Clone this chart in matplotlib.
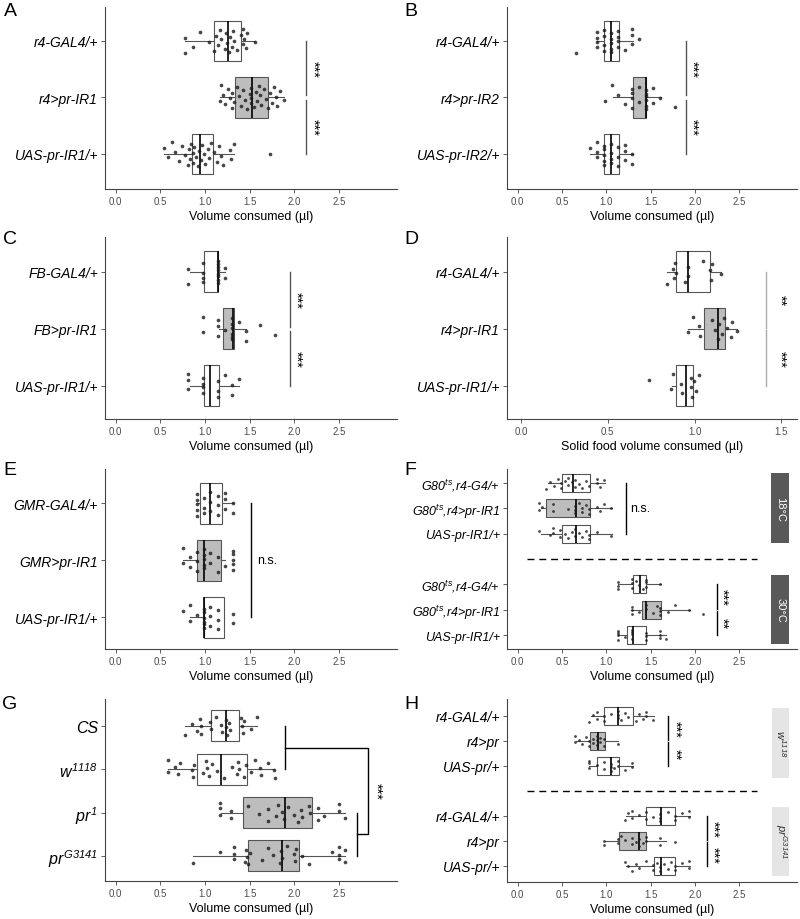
import matplotlib
matplotlib.use('Agg')
import matplotlib.pyplot as plt
from matplotlib.patches import Rectangle
import numpy as np

plt.rcParams['font.family'] = ['Liberation Sans', 'DejaVu Sans']
plt.rcParams['mathtext.fontset'] = 'custom'
plt.rcParams['mathtext.it'] = 'Liberation Sans:italic'
plt.rcParams['mathtext.rm'] = 'Liberation Sans:italic'
plt.rcParams['mathtext.default'] = 'it'

# ---------------- data ----------------
# box stats: [whisker low, q1, median, q3, whisker high]
a_labels = ['r4-GAL4/+', 'r4>pr-IR1', 'UAS-pr-IR1/+']
a_box = [[0.78, 1.10, 1.26, 1.40, 1.56],
         [1.17, 1.34, 1.53, 1.71, 1.88],
         [0.54, 0.85, 0.94, 1.09, 1.32]]
a_pts = [[0.78, 0.78, 0.86, 0.94, 1.05, 1.10, 1.12, 1.15, 1.17, 1.18, 1.22, 1.24, 1.25,
          1.27, 1.28, 1.30, 1.31, 1.33, 1.36, 1.40, 1.42, 1.43, 1.44, 1.46, 1.47, 1.56],
         [1.17, 1.18, 1.20, 1.22, 1.26, 1.28, 1.30, 1.30, 1.33, 1.36, 1.38, 1.40, 1.43,
          1.45, 1.47, 1.50, 1.51, 1.52, 1.52, 1.55, 1.57, 1.58, 1.60, 1.62, 1.63, 1.66,
          1.68, 1.70, 1.73, 1.75, 1.77, 1.79, 1.81, 1.84, 1.88],
         [0.54, 0.58, 0.63, 0.66, 0.71, 0.74, 0.78, 0.81, 0.82, 0.83, 0.84, 0.86, 0.87,
          0.88, 0.90, 0.92, 0.93, 0.95, 0.97, 0.99, 1.00, 1.03, 1.05, 1.07, 1.10, 1.13,
          1.16, 1.18, 1.20, 1.28, 1.29, 1.32, 1.73]]

b_labels = ['r4-GAL4/+', 'r4>pr-IR2', 'UAS-pr-IR2/+']
b_box = [[0.90, 0.97, 1.05, 1.14, 1.30],
         [1.07, 1.30, 1.45, 1.45, 1.62],
         [0.82, 0.97, 1.05, 1.14, 1.30]]
b_pts = [[0.66, 0.89, 0.89, 0.89, 0.89, 0.97, 0.97, 0.97, 0.97, 1.05, 1.05, 1.05, 1.05,
          1.05, 1.13, 1.13, 1.13, 1.13, 1.21, 1.29, 1.29, 1.29, 1.37],
         [0.98, 1.06, 1.13, 1.21, 1.29, 1.29, 1.29, 1.29, 1.37, 1.37, 1.45, 1.45, 1.45,
          1.45, 1.45, 1.45, 1.53, 1.53, 1.61, 1.77],
         [0.82, 0.89, 0.89, 0.89, 0.97, 0.97, 0.97, 0.97, 0.97, 1.05, 1.05, 1.05, 1.05,
          1.13, 1.13, 1.13, 1.21, 1.21, 1.21, 1.29, 1.29]]

c_labels = ['FB-GAL4/+', 'FB>pr-IR1', 'UAS-pr-IR1/+']
c_box = [[0.83, 0.99, 1.15, 1.15, 1.22],
         [1.16, 1.20, 1.31, 1.32, 1.46],
         [0.83, 0.99, 1.06, 1.16, 1.38]]
c_pts = [[0.81, 0.81, 0.98, 0.98, 0.98, 0.98, 1.14, 1.14, 1.14, 1.14, 1.14, 1.14, 1.14,
          1.14, 1.22, 1.22],
         [0.98, 0.98, 1.14, 1.14, 1.14, 1.22, 1.30, 1.30, 1.30, 1.30, 1.30, 1.30, 1.38,
          1.46, 1.46, 1.62, 1.78],
         [0.81, 0.81, 0.81, 0.98, 0.98, 0.98, 0.98, 1.14, 1.14, 1.14, 1.22, 1.30, 1.30,
          1.38]]

d_labels = ['r4-GAL4/+', 'r4>pr-IR1', 'UAS-pr-IR1/+']
d_box = [[0.843, 0.895, 0.963, 1.09, 1.15],
         [0.963, 1.053, 1.135, 1.176, 1.243],
         [0.868, 0.895, 0.952, 0.99, 0.99]]
d_pts = [[0.84, 0.876, 0.88, 0.89, 0.895, 0.945, 0.963, 0.965, 1.047, 1.09, 1.095,
          1.10, 1.15],
         [0.963, 0.99, 1.024, 1.034, 1.10, 1.115, 1.135, 1.14, 1.16, 1.167, 1.186, 1.21,
          1.215, 1.243],
         [0.735, 0.862, 0.876, 0.921, 0.929, 0.977, 0.982, 0.985, 0.996, 1.01, 1.024]]

e_labels = ['GMR-GAL4/+', 'GMR>pr-IR1', 'UAS-pr-IR1/+']
e_box = [[0.91, 0.94, 1.06, 1.19, 1.31],
         [0.75, 0.91, 0.99, 1.18, 1.22],
         [0.83, 0.99, 0.99, 1.21, 1.21]]
e_pts = [[0.91, 0.91, 0.91, 0.91, 0.91, 0.99, 0.99, 0.99, 1.06, 1.06, 1.06, 1.15, 1.15,
          1.15, 1.22, 1.22, 1.22, 1.31, 1.31],
         [0.75, 0.75, 0.83, 0.83, 0.91, 0.91, 0.91, 0.99, 0.99, 0.99, 0.99, 0.99, 1.06,
          1.06, 1.15, 1.15, 1.22, 1.31, 1.31, 1.31, 1.31, 1.31],
         [0.75, 0.83, 0.83, 0.91, 0.99, 0.99, 0.99, 0.99, 0.99, 0.99, 1.06, 1.06, 1.06,
          1.15, 1.15, 1.15, 1.31, 1.31]]

f_labels = [r'$G80^{ts}$,r4-G4/+', r'$G80^{ts}$,r4>pr-IR1', 'UAS-pr-IR1/+'] * 2
f_strips = ['18°C', '30°C']
f_box = [[0.34, 0.50, 0.62, 0.82, 0.98],
         [0.26, 0.32, 0.66, 0.82, 1.06],
         [0.26, 0.50, 0.66, 0.82, 1.06],
         [1.13, 1.30, 1.38, 1.45, 1.62],
         [1.28, 1.40, 1.45, 1.62, 1.94],
         [1.13, 1.23, 1.30, 1.45, 1.67]]
f_pts = [[0.32, 0.36, 0.41, 0.45, 0.49, 0.49, 0.53, 0.57, 0.57, 0.61, 0.65, 0.65, 0.69,
          0.73, 0.77, 0.81, 0.89, 0.89, 0.93, 0.97],
         [0.24, 0.24, 0.28, 0.40, 0.40, 0.57, 0.65, 0.65, 0.65, 0.69, 0.73, 0.73, 0.77,
          0.81, 0.81, 0.89, 0.93, 0.97, 1.05],
         [0.24, 0.36, 0.40, 0.40, 0.48, 0.48, 0.53, 0.57, 0.61, 0.65, 0.65, 0.69, 0.73,
          0.77, 0.81, 0.81, 0.89, 1.05],
         [1.13, 1.13, 1.13, 1.29, 1.29, 1.29, 1.33, 1.37, 1.41, 1.45, 1.45, 1.45, 1.61],
         [1.29, 1.29, 1.29, 1.37, 1.45, 1.45, 1.53, 1.57, 1.61, 1.61, 1.61, 1.69, 1.77,
          1.93, 2.09],
         [1.13, 1.13, 1.13, 1.13, 1.21, 1.29, 1.29, 1.29, 1.29, 1.45, 1.45, 1.45, 1.61,
          1.61, 1.61, 1.67]]

g_labels = ['CS', r'$w^{1118}$', r'$pr^{1}$', r'$pr^{G3141}$']
g_box = [[0.78, 1.07, 1.24, 1.38, 1.58],
         [0.59, 0.91, 1.18, 1.47, 1.77],
         [1.18, 1.43, 1.90, 2.20, 2.57],
         [0.87, 1.48, 1.86, 2.05, 2.57]]
g_pts = [[0.78, 0.85, 0.91, 0.94, 0.95, 0.96, 1.06, 1.07, 1.12, 1.18, 1.19, 1.24, 1.24,
          1.25, 1.27, 1.28, 1.40, 1.41, 1.42, 1.44, 1.51, 1.58],
         [0.59, 0.59, 0.66, 0.70, 0.72, 0.85, 0.86, 0.88, 0.98, 1.01, 1.02, 1.05, 1.08,
          1.13, 1.21, 1.30, 1.36, 1.37, 1.38, 1.44, 1.46, 1.52, 1.56, 1.62, 1.63, 1.70,
          1.77, 1.78],
         [1.17, 1.17, 1.17, 1.29, 1.29, 1.48, 1.61, 1.70, 1.70, 1.80, 1.82, 1.86, 1.88,
          1.93, 2.00, 2.04, 2.08, 2.09, 2.17, 2.18, 2.26, 2.26, 2.33, 2.50, 2.50, 2.57],
         [0.87, 1.17, 1.33, 1.33, 1.33, 1.45, 1.46, 1.47, 1.48, 1.50, 1.64, 1.70, 1.76,
          1.84, 1.85, 1.86, 1.92, 2.00, 2.01, 2.02, 2.09, 2.17, 2.42, 2.50, 2.50, 2.50,
          2.57, 2.57]]

h_labels = ['r4-GAL4/+', 'r4>pr', 'UAS-pr/+'] * 2
h_strips = [r'$w^{1118}$', r'$pr^{G3141}$']
h_box = [[0.83, 0.97, 1.13, 1.30, 1.54],
         [0.66, 0.82, 0.91, 0.98, 1.13],
         [0.81, 0.90, 1.05, 1.14, 1.30],
         [1.22, 1.45, 1.62, 1.77, 1.94],
         [0.98, 1.14, 1.37, 1.45, 1.67],
         [1.22, 1.54, 1.62, 1.77, 1.94]]
h_pts = [[0.81, 0.85, 0.89, 0.89, 0.97, 0.97, 1.05, 1.13, 1.13, 1.13, 1.17, 1.21, 1.25,
          1.33, 1.37, 1.41, 1.45, 1.45, 1.53],
         [0.65, 0.65, 0.69, 0.73, 0.77, 0.81, 0.81, 0.85, 0.85, 0.89, 0.89, 0.89, 0.93,
          0.93, 0.97, 0.97, 1.13],
         [0.81, 0.81, 0.81, 0.89, 0.97, 0.97, 1.05, 1.05, 1.05, 1.09, 1.13, 1.13, 1.21,
          1.29, 1.29],
         [1.21, 1.25, 1.29, 1.29, 1.37, 1.45, 1.45, 1.53, 1.61, 1.61, 1.61, 1.69, 1.77,
          1.77, 1.85, 1.93, 1.93],
         [0.97, 0.97, 1.13, 1.13, 1.17, 1.21, 1.29, 1.29, 1.33, 1.37, 1.37, 1.41, 1.45,
          1.45, 1.61, 1.61, 1.77],
         [1.21, 1.25, 1.29, 1.33, 1.37, 1.45, 1.53, 1.53, 1.57, 1.61, 1.61, 1.65, 1.69,
          1.73, 1.77, 1.77, 1.85, 1.93, 1.93]]

vol_label = 'Volume consumed (µl)'
solid_label = 'Solid food volume consumed (µl)'

GREY = '#bdbdbd'
W, H = 800, 920
fig = plt.figure(figsize=(8, 9.2), dpi=100)


def rect(l, t, r, b):
    return [l / W, 1 - b / H, (r - l) / W, (b - t) / H]


def panel(r, labels, pos, boxes, pts, fills, ylim, xlim=(-0.12, 3.15),
          xticks=(0, 0.5, 1, 1.5, 2, 2.5), xlabel=vol_label, fs=10, ms=7, jw=0.22):
    ax = fig.add_axes(r)
    stats = [dict(whislo=b[0], q1=b[1], med=b[2], q3=b[3], whishi=b[4]) for b in boxes]
    art = ax.bxp(stats, positions=pos, widths=0.72, orientation='horizontal',
                 showcaps=False, showfliers=False, patch_artist=True,
                 boxprops=dict(edgecolor='#555555', linewidth=0.8),
                 whiskerprops=dict(color='#555555', linewidth=0.8),
                 medianprops=dict(color='black', linewidth=1.2))
    for patch, fc in zip(art['boxes'], fills):
        patch.set_facecolor(fc)
    for k, (y, vals) in enumerate(zip(pos, pts)):
        n = len(vals)
        off = ((np.arange(n) * 0.618034 + 0.37 * k) % 1 - 0.5) * 2 * jw
        ax.scatter(vals, y + off, s=ms, color='#1a1a1a', alpha=0.8, lw=0, zorder=3)
    ax.set_yticks(pos, labels, fontstyle='italic', fontsize=fs)
    ax.set_xticks(xticks, [f'{t:.1f}' for t in xticks])
    ax.set_xlim(*xlim)
    ax.set_ylim(*ylim)
    for s in ['top', 'right']:
        ax.spines[s].set_visible(False)
    for s in ['left', 'bottom']:
        ax.spines[s].set_color('#444444')
        ax.spines[s].set_linewidth(0.8)
    ax.tick_params(axis='both', length=3, width=0.6, color='#444444', pad=2)
    ax.tick_params(axis='x', labelsize=7, labelcolor='#4d4d4d')
    if xlabel:
        ax.set_xlabel(xlabel, fontsize=9, labelpad=3)
    return ax


def sig(ax, x, y0, y1, txt, tx, color='#555555', rot=270, fs=10.5):
    ax.plot([x, x], [y0, y1], color=color, lw=1)
    ax.text(tx, (y0 + y1) / 2, txt, rotation=rot, ha='center', va='center', fontsize=fs)


def strip(ax, x0, x1, yc, half, txt, fc, tc, fs=8):
    ax.add_patch(Rectangle((x0, yc - half), x1 - x0, 2 * half, facecolor=fc,
                           edgecolor='none', clip_on=False))
    ax.text((x0 + x1) / 2, yc, txt, rotation=270, ha='center', va='center',
            color=tc, fontsize=fs)


pos3 = [3, 2, 1]
pos6 = [7, 6, 5, 3, 2, 1]

# A
ax = panel(rect(105, 8, 397, 190), a_labels, pos3, a_box, a_pts,
           ['white', GREY, 'white'], (0.38, 3.6))
sig(ax, 2.13, 3.0, 2.04, '***', 2.21)
sig(ax, 2.13, 1.96, 1.0, '***', 2.21)

# B
ax = panel(rect(507, 8, 797, 190), b_labels, pos3, b_box, b_pts,
           ['white', GREY, 'white'], (0.38, 3.6))
sig(ax, 1.9, 3.0, 2.04, '***', 1.97)
sig(ax, 1.9, 1.96, 1.0, '***', 1.97)

# C
ax = panel(rect(105, 238, 397, 420), c_labels, pos3, c_box, c_pts,
           ['white', GREY, 'white'], (0.42, 3.61))
sig(ax, 1.95, 3.0, 2.04, '***', 2.02)
sig(ax, 1.95, 1.96, 1.0, '***', 2.02)

# D
ax = panel(rect(507, 238, 797, 420), d_labels, pos3, d_box, d_pts,
           ['white', GREY, 'white'], (0.42, 3.61), xlim=(-0.08, 1.59),
           xticks=(0, 0.5, 1, 1.5), xlabel=solid_label)
sig(ax, 1.41, 3.0, 2.02, '**', 1.49, color='#aaaaaa')
sig(ax, 1.41, 1.98, 1.0, '***', 1.49, color='#aaaaaa')

# E
ax = panel(rect(105, 470, 397, 650), e_labels, pos3, e_box, e_pts,
           ['white', GREY, 'white'], (0.44, 3.6))
ax.plot([1.51, 1.51], [3, 1], color='black', lw=1)
ax.text(1.58, 2, 'n.s.', ha='left', va='center', fontsize=9)

# F
ax = panel(rect(507, 470, 797, 650), f_labels, pos6, f_box, f_pts,
           ['white', GREY, 'white'] * 2, (0.45, 7.55), fs=9, ms=4)
ax.plot([0.1, 2.7], [4, 4], color='black', lw=1, ls=(0, (5, 3.5)))
ax.plot([1.22, 1.22], [7, 5], color='black', lw=1)
ax.text(1.27, 6, 'n.s.', ha='left', va='center', fontsize=9)
sig(ax, 2.25, 3.0, 2.04, '***', 2.31, color='black')
sig(ax, 2.25, 1.96, 1.0, '**', 2.31, color='black')
strip(ax, 2.86, 3.06, 6, 1.38, f_strips[0], '#595959', 'white')
strip(ax, 2.86, 3.06, 2, 1.37, f_strips[1], '#595959', 'white')

# G
ax = panel(rect(105, 700, 397, 882), g_labels, [4, 3, 2, 1], g_box, g_pts,
           ['white', 'white', GREY, GREY], (0.42, 4.62), fs=11.5)
ax.plot([1.9, 1.9], [4, 3], color='black', lw=1)
ax.plot([1.9, 2.83, 2.83, 2.7], [3.5, 3.5, 1.5, 1.5], color='black', lw=1)
ax.plot([2.7, 2.7], [2, 1], color='black', lw=1)
ax.text(2.92, 2.5, '***', rotation=270, ha='center', va='center', fontsize=10.5)

# H
ax = panel(rect(507, 700, 797, 883), h_labels, pos6, h_box, h_pts,
           ['white', GREY, 'white'] * 2, (0.36, 7.68), fs=10, ms=4)
ax.plot([0.1, 2.7], [4, 4], color='black', lw=1, ls=(0, (5, 3.5)))
sig(ax, 1.7, 7.0, 6.04, '***', 1.78, color='black')
sig(ax, 1.7, 5.96, 5.0, '**', 1.78, color='black')
sig(ax, 2.13, 3.0, 2.04, '***', 2.2, color='black')
sig(ax, 2.13, 1.96, 1.0, '***', 2.2, color='black')
strip(ax, 2.87, 3.06, 5.93, 1.39, h_strips[0], '#e5e5e5', '#333333', fs=8)
strip(ax, 2.87, 3.06, 2.0, 1.38, h_strips[1], '#e5e5e5', '#333333', fs=8)

# panel letters
for letter, x, y in [('A', 10, 12), ('B', 411, 12), ('C', 10, 240), ('D', 411, 240),
                     ('E', 10, 471), ('F', 410, 471), ('G', 10, 705), ('H', 411, 705)]:
    fig.text(x / W, 1 - y / H, letter, fontsize=14, ha='center', va='center')

fig.savefig('out.png', dpi=100)
